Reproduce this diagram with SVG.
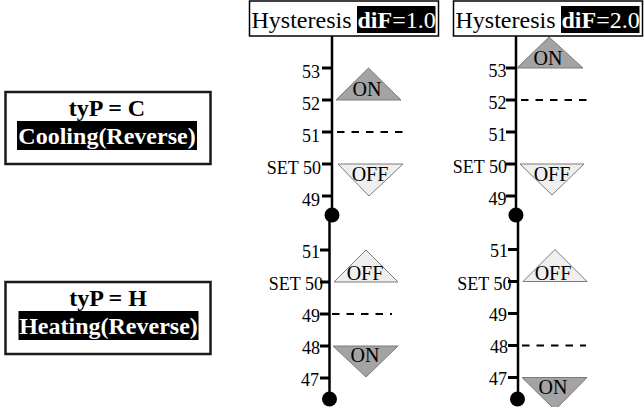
<svg xmlns="http://www.w3.org/2000/svg" width="644" height="407" viewBox="0 0 644 407">
<style>
text{font-family:"Liberation Serif","Times New Roman",serif;fill:#000}
.hdr{font-size:24px}
.b{font-weight:bold}
.w{fill:#fff}
.lbl{font-size:18px;text-anchor:end}
.st{font-size:20px;text-anchor:middle}
.mode{font-size:24px;font-weight:bold;text-anchor:middle}
.box{fill:#fff;stroke:#000;stroke-width:1.5}
.mbox{fill:#fff;stroke:#1a1a1a;stroke-width:2.5}
.axis{stroke:#000;stroke-width:2.5;fill:none}
.tick{stroke:#000;stroke-width:3}
.dash{stroke:#000;stroke-width:2;stroke-dasharray:7.5 7}
.on{fill:#a3a3a3;stroke:#7a7a7a;stroke-width:1}
.off{fill:#efefef;stroke:#7a7a7a;stroke-width:1}
</style>

<g id="mode-cooling">
<rect class="mbox" x="5.5" y="92" width="205" height="72"/>
<text class="mode" x="107" y="115.5">tyP = C</text>
<rect x="17" y="121" width="180" height="29" fill="#000"/>
<text class="mode w" x="107" y="144">Cooling(Reverse)</text>
</g>

<g id="mode-heating">
<rect class="mbox" x="5.5" y="282" width="205" height="72"/>
<text class="mode" x="108" y="305.5">tyP = H</text>
<rect x="18.5" y="311" width="180" height="29" fill="#000"/>
<text class="mode w" x="108.5" y="334">Heating(Reverse)</text>
</g>

<g id="header-dif1">
<rect class="box" x="249.5" y="1" width="189" height="35"/>
<rect x="357" y="6" width="78.5" height="27" fill="#000"/>
<text class="hdr" x="251.5" y="27.5">Hysteresis <tspan class="b w">diF</tspan><tspan class="w">=1.0</tspan></text>
</g>

<g id="header-dif2">
<rect class="box" x="453.5" y="1" width="189" height="35"/>
<rect x="561" y="6" width="78.5" height="27" fill="#000"/>
<text class="hdr" x="455.5" y="27.5">Hysteresis <tspan class="b w">diF</tspan><tspan class="w">=2.0</tspan></text>
</g>

<g id="connectors">
<line class="axis" x1="332" y1="36" x2="332" y2="215"/>
<line class="axis" x1="516" y1="36" x2="516" y2="215"/>
<line class="axis" x1="329.5" y1="215" x2="329.5" y2="399"/>
<line class="axis" x1="518" y1="215" x2="518" y2="399"/>
<circle cx="332" cy="215" r="7.5" fill="#000"/>
<circle cx="516" cy="215" r="7.5" fill="#000"/>
<circle cx="329.5" cy="399" r="7.5" fill="#000"/>
<circle cx="517.5" cy="399" r="7.5" fill="#000"/>
</g>

<g id="scale-cooling-dif1">
<g class="tick">
<line x1="322" y1="68" x2="332" y2="68"/>
<line x1="322" y1="100" x2="332" y2="100"/>
<line x1="322" y1="132" x2="332" y2="132"/>
<line x1="322" y1="164" x2="332" y2="164"/>
<line x1="322" y1="196" x2="332" y2="196"/>
</g>
<text class="lbl" x="320" y="77.5">53</text>
<text class="lbl" x="320" y="109.5">52</text>
<text class="lbl" x="320" y="141.5">51</text>
<text class="lbl" x="321" y="173.5">SET 50</text>
<text class="lbl" x="320" y="205.5">49</text>
<line class="dash" x1="337" y1="132" x2="405" y2="132"/>
<polygon class="on" points="336,100 401,100 368.5,68"/>
<text class="st" x="367" y="96">ON</text>
<polygon class="off" points="338,164 403,164 369,196"/>
<text class="st" x="370" y="181">OFF</text>
</g>

<g id="scale-cooling-dif2">
<g class="tick">
<line x1="506" y1="68" x2="516" y2="68"/>
<line x1="506" y1="100" x2="516" y2="100"/>
<line x1="506" y1="132" x2="516" y2="132"/>
<line x1="506" y1="164" x2="516" y2="164"/>
<line x1="506" y1="196" x2="516" y2="196"/>
</g>
<text class="lbl" x="506.5" y="77">53</text>
<text class="lbl" x="506.5" y="109">52</text>
<text class="lbl" x="506.5" y="141">51</text>
<text class="lbl" x="507" y="173">SET 50</text>
<text class="lbl" x="506.5" y="205">49</text>
<line class="dash" x1="521" y1="100" x2="592" y2="100"/>
<polygon class="on" points="517,68 583,68 549,37"/>
<text class="st" x="548" y="65">ON</text>
<polygon class="off" points="520,164 584,164 552,195"/>
<text class="st" x="552" y="181">OFF</text>
</g>

<g id="scale-heating-dif1">
<g class="tick">
<line x1="320" y1="250" x2="330" y2="250"/>
<line x1="320" y1="282" x2="330" y2="282"/>
<line x1="320" y1="314" x2="330" y2="314"/>
<line x1="320" y1="346" x2="330" y2="346"/>
<line x1="320" y1="378" x2="330" y2="378"/>
</g>
<text class="lbl" x="320" y="257.5">51</text>
<text class="lbl" x="323" y="290">SET 50</text>
<text class="lbl" x="320" y="321.5">49</text>
<text class="lbl" x="320" y="353.5">48</text>
<text class="lbl" x="319" y="385.5">47</text>
<line class="dash" x1="332" y1="314" x2="392" y2="314"/>
<polygon class="off" points="334,282 398,282 366,250"/>
<text class="st" x="365" y="280">OFF</text>
<polygon class="on" points="333,346 398,346 366,377"/>
<text class="st" x="365" y="361.5">ON</text>
</g>

<g id="scale-heating-dif2">
<g class="tick">
<line x1="508" y1="249.5" x2="518" y2="249.5"/>
<line x1="508" y1="281.5" x2="518" y2="281.5"/>
<line x1="508" y1="313.5" x2="518" y2="313.5"/>
<line x1="508" y1="345.5" x2="518" y2="345.5"/>
<line x1="508" y1="377.5" x2="518" y2="377.5"/>
</g>
<text class="lbl" x="508" y="257">51</text>
<text class="lbl" x="511.5" y="289.5">SET 50</text>
<text class="lbl" x="507" y="321">49</text>
<text class="lbl" x="508" y="353">48</text>
<text class="lbl" x="507" y="385">47</text>
<line class="dash" x1="522" y1="345.5" x2="586" y2="345.5"/>
<polygon class="off" points="523,281.5 587,281.5 555,249.5"/>
<text class="st" x="553" y="280">OFF</text>
<polygon class="on" points="522,377.5 587,377.5 555,410"/>
<text class="st" x="553" y="393.5">ON</text>
</g>
</svg>
